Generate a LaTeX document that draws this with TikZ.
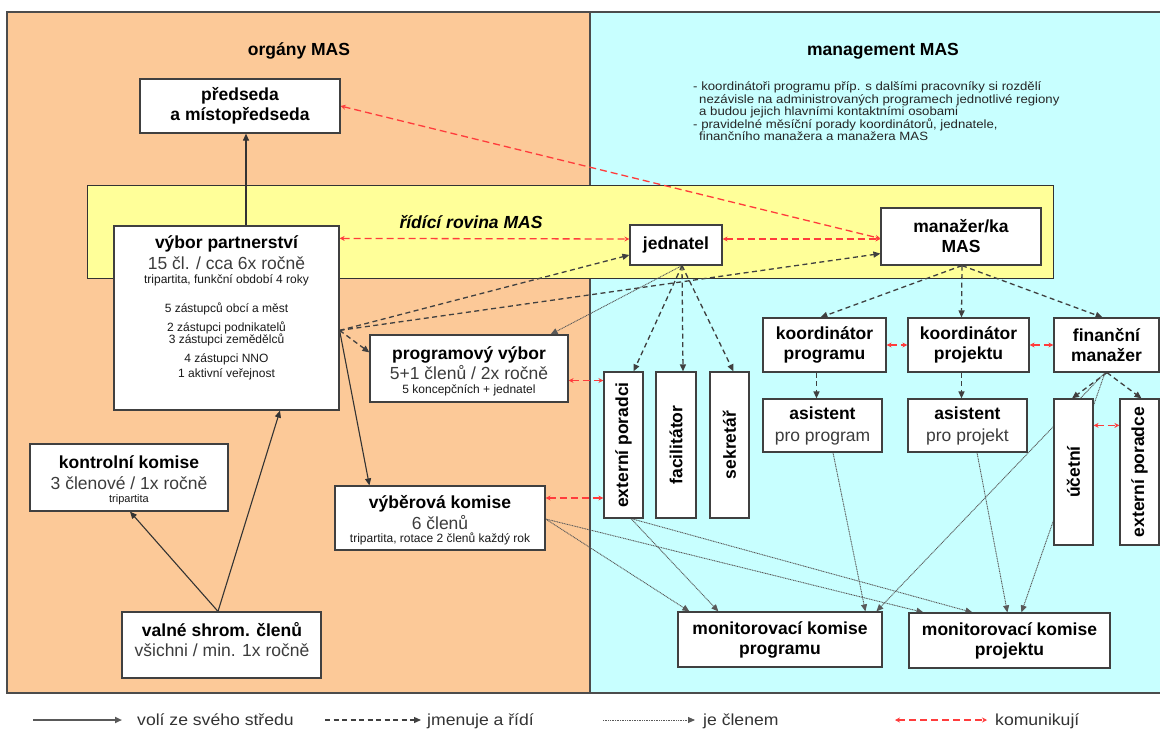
\documentclass[tikz,border=0pt]{standalone}
\usepackage{fontspec}
\setmainfont{Liberation Sans}
\newfontfamily\widefont[FakeStretch=1.1]{Liberation Sans}
\usetikzlibrary{arrows.meta,calc}
\pgfdeclarelayer{bg}
\pgfdeclarelayer{lines}
\pgfsetlayers{bg,lines,main}
\definecolor{orangebg}{RGB}{252,201,152}
\definecolor{cyanbg}{RGB}{200,255,255}
\definecolor{yellowbg}{RGB}{255,255,153}
\definecolor{redline}{RGB}{255,60,60}
\definecolor{lineg}{RGB}{64,64,64}
\definecolor{txtg}{RGB}{60,60,60}
\begin{document}
\begin{tikzpicture}[x=1pt,y=-1pt,
  box/.style={draw=black!75, line width=1.2pt, fill=white, inner sep=0pt, align=center, font=\bfseries\fontsize{17.5}{20}\selectfont, text=black},
  ttl/.style={anchor=base, inner sep=0pt, font=\bfseries\fontsize{17.5}{20}\selectfont},
  sub/.style={anchor=base, inner sep=0pt, font=\fontsize{17.5}{20}\selectfont, text=txtg},
  small/.style={anchor=base, inner sep=0pt, font=\fontsize{12}{14}\selectfont, text=black!90},
  legtxt/.style={anchor=base west, inner sep=0pt, font=\widefont\fontsize{16}{18}\selectfont, text=black!80},
  solidarr/.style={draw=black!80, line width=1.1pt, -{Triangle[length=7pt,width=6pt]}},
  dasharr/.style={draw=lineg, line width=1.3pt, dash pattern=on 5pt off 3.5pt, -{Triangle[length=7pt,width=6pt]}},
  dotarr/.style={draw=black!65, line width=0.9pt, dash pattern=on 1pt off 0.7pt, -{Triangle[length=7pt,width=6pt]}},
  comm/.style={draw=redline, line width=1.3pt, dash pattern=on 7pt off 4pt, {Stealth[length=5pt,width=5pt]}-{Stealth[length=5pt,width=5pt]}}
]
\useasboundingbox (0,0) rectangle (1160,731);

\begin{pgfonlayer}{bg}
  \fill[white] (0,0) rectangle (1160,731);
  \fill[orangebg] (7,12) rectangle (590,693);
  \fill[cyanbg] (590,12) rectangle (1163,693);
  \draw[black!70, line width=1.5pt] (1163,12) -- (7,12) -- (7,693) -- (1163,693);
  \draw[black!70, line width=1.5pt] (590,12) -- (590,693);
  \filldraw[fill=yellowbg, draw=black!80, line width=1pt] (87,185) rectangle (1053,278);
\end{pgfonlayer}

% titles
\node[ttl] (t-org) at (299,55.3) {orgány MAS};
\node[ttl] (t-mgmt) at (883,55.3) {management MAS};
\node[ttl, font=\bfseries\itshape\fontsize{17.5}{20}\selectfont] (t-rid) at (471,228.3) {řídící rovina MAS};
\node[anchor=north west, align=left, inner sep=0pt, font=\widefont\fontsize{12}{12.6}\selectfont, text=black!85] (t-note) at (693,81.5) {%
- koordinátoři programu příp. s dalšími pracovníky si rozdělí\\
\hspace*{6pt}nezávisle na administrovaných programech jednotlivé regiony\\
\hspace*{6pt}a budou jejich hlavními kontaktními osobami\\
- pravidelné měsíční porady koordinátorů, jednatele,\\
\hspace*{6pt}finančního manažera a manažera MAS};

% boxes
\node[box, minimum width=200pt, minimum height=54pt] (pr) at (240,106) {předseda\\a místopředseda};
\node[box, minimum width=225pt, minimum height=184pt] (vp) at (226.5,318) {};
\node[box, minimum width=198pt, minimum height=67pt] (kk) at (129,477.5) {};
\node[box, minimum width=199pt, minimum height=66pt] (vs) at (221.5,645) {};
\node[box, minimum width=198pt, minimum height=67pt] (pv) at (469,368.5) {};
\node[box, minimum width=210pt, minimum height=64pt] (vk) at (440,518) {};
\node[box, minimum width=92pt, minimum height=40pt] (jd) at (676,245) {jednatel};
\node[box, minimum width=160pt, minimum height=57pt] (mg) at (961,236.5) {manažer/ka\\MAS};
\node[box, minimum width=123pt, minimum height=54pt] (kp) at (824.5,345) {koordinátor\\programu};
\node[box, minimum width=121pt, minimum height=54pt] (kj) at (968.5,345) {koordinátor\\projektu};
\node[box, minimum width=105pt, minimum height=54pt] (fm) at (1106.5,345) {finanční\\manažer};
\node[box, minimum width=119pt, minimum height=53pt, font=\bfseries\fontsize{17.5}{22}\selectfont] (ap) at (822.5,425.5) {asistent\\{\mdseries\color{txtg}pro program}};
\node[box, minimum width=119pt, minimum height=53pt, font=\bfseries\fontsize{17.5}{22}\selectfont] (aj) at (967.5,425.5) {asistent\\{\mdseries\color{txtg}pro projekt}};
\node[box, minimum width=39pt, minimum height=146pt] (ep) at (623.5,445) {\rotatebox{90}{externí poradci}};
\node[box, minimum width=40pt, minimum height=146pt] (fa) at (676,445) {\rotatebox{90}{facilitátor}};
\node[box, minimum width=39pt, minimum height=146pt] (se) at (729.5,445) {\rotatebox{90}{sekretář}};
\node[box, minimum width=39pt, minimum height=146pt] (uc) at (1073.5,472) {\rotatebox{90}{účetní}};
\node[box, minimum width=39pt, minimum height=146pt] (eo) at (1139.5,472) {\rotatebox{90}{externí poradce}};
\node[box, minimum width=204pt, minimum height=55pt] (mp) at (780,639.5) {monitorovací komise\\programu};
\node[box, minimum width=201pt, minimum height=55pt] (mj) at (1009.5,640.5) {monitorovací komise\\projektu};

% texts in boxes
\node[ttl] (vp-1) at (226.5,248.3) {výbor partnerství};
\node[sub] (vp-2) at (226.5,269.3) {15 čl. / cca 6x ročně};
\node[small] (vp-3) at (226.5,283.3) {tripartita, funkční období 4 roky};
\node[small] (vp-4) at (226.5,312.3) {5 zástupců obcí a měst};
\node[small] (vp-5) at (226.5,331.3) {2 zástupci podnikatelů};
\node[small] (vp-6) at (226.5,343.3) {3 zástupci zemědělců};
\node[small] (vp-7) at (226.5,362.3) {4 zástupci NNO};
\node[small] (vp-8) at (226.5,377.3) {1 aktivní veřejnost};

\node[ttl] (pv-1) at (469,359.3) {programový výbor};
\node[sub] (pv-2) at (469,379.3) {5+1 členů / 2x ročně};
\node[small] (pv-3) at (469,393.3) {5 koncepčních + jednatel};

\node[ttl] (vk-1) at (440,508.3) {výběrová komise};
\node[sub] (vk-2) at (440,529.3) {6 členů};
\node[small] (vk-3) at (440,542.3) {tripartita, rotace 2 členů každý rok};

\node[ttl] (kk-1) at (129,468.3) {kontrolní komise};
\node[sub] (kk-2) at (129,489.3) {3 členové / 1x ročně};
\node[small, font=\fontsize{11}{13}\selectfont] (kk-3) at (129,502) {tripartita};

\node[ttl] (vs-1) at (222,636.3) {valné shrom. členů};
\node[sub] (vs-2) at (222,656.3) {všichni / min. 1x ročně};

% legend
\coordinate (l1a) at (33,720); \coordinate (l1b) at (122,720);
\coordinate (l2a) at (325,720); \coordinate (l2b) at (421,720);
\coordinate (l3a) at (603,720); \coordinate (l3b) at (695,720);
\coordinate (l4a) at (895,720); \coordinate (l4b) at (987,720);
\node[legtxt] (lg1) at (137,725.5) {volí ze svého středu};
\node[legtxt] (lg2) at (427,725.5) {jmenuje a řídí};
\node[legtxt] (lg3) at (703,725.5) {je členem};
\node[legtxt] (lg4) at (995,725.5) {komunikují};

\begin{pgfonlayer}{lines}
  % solid
  \draw[solidarr] ($(vp.north)+(19.5,0)$) -- ($(pr.south)+(6,0)$);
  \draw[solidarr] ($(vs.north)+(-3.5,0)$) -- ($(vp.south)+(53.5,0)$);
  \draw[solidarr] ($(vs.north)+(-3.5,0)$) -- ($(kk.south)+(1,0)$);
  \draw[solidarr] ($(vp.north east)+(0,105)$) -- ($(vk.north west)+(35,0)$);
  % dashed
  \draw[dasharr] ($(vp.north east)+(0,105)$) -- ($(pv.north west)+(0,18)$);
  \draw[dasharr] ($(vp.north east)+(0,105)$) -- ($(jd.west)+(0,10)$);
  \draw[dasharr] ($(vp.north east)+(0,105)$) -- ($(mg.south west)+(0,-12)$);
  \draw[dasharr] ($(jd.south)+(6,0)$) -- ($(ep.north)+(10,0)$);
  \draw[dasharr] ($(jd.south)+(6,0)$) -- ($(fa.north)+(7,0)$);
  \draw[dasharr] ($(jd.south)+(6,0)$) -- ($(se.north)+(4,0)$);
  \draw[dasharr] ($(mg.south)+(1,0)$) -- ($(kp.north)+(-4,0)$);
  \draw[dasharr] ($(mg.south)+(1,0)$) -- ($(kj.north)+(-7,0)$);
  \draw[dasharr] ($(mg.south)+(1,0)$) -- ($(fm.north)+(-4,0)$);
  \draw[dasharr] ($(kp.south)+(-8,0)$) -- ($(ap.north)+(-6,0)$);
  \draw[dasharr] ($(kj.south)+(-7,0)$) -- ($(aj.north)+(-6,0)$);
  \draw[dasharr] ($(fm.south)+(0.5,0)$) -- ($(uc.north)+(-1.5,0)$);
  \draw[dasharr] ($(fm.south)+(0.5,0)$) -- ($(eo.north)+(2,0)$);
  % communicate
  \draw[comm] (pr.east) -- ($(mg.west)+(0,2)$);
  \draw[comm] ($(vp.north east)+(0,13)$) -- ($(jd.west)+(0,-6)$);
  \draw[comm] ($(jd.east)+(0,-6)$) -- ($(mg.west)+(0,2.5)$);
  \draw[comm] ($(pv.east)+(0,12)$) -- ($(ep.west |- pv.east)+(0,12)$);
  \draw[comm] ($(vk.east)+(0,-20)$) -- ($(ep.west |- vk.east)+(0,-20)$);
  \draw[comm] (kp.east) -- (kj.west);
  \draw[comm] (kj.east) -- (fm.west);
  \draw[comm] ($(uc.north east)+(0,27)$) -- ($(eo.north west)+(0,27)$);
  % membership
  \draw[dotarr] ($(jd.south)+(6,0)$) -- ($(pv.north east)+(-18,0)$);
  \draw[dotarr] ($(vk.east)+(0,1)$) -- ($(mp.north west)+(12,0)$);
  \draw[dotarr] ($(vk.east)+(0,1)$) -- ($(mj.north west)+(15,0)$);
  \draw[dotarr] ($(ep.south)+(7.5,0)$) -- ($(mp.north west)+(41,0)$);
  \draw[dotarr] ($(ep.south)+(7.5,0)$) -- ($(mj.north west)+(64,0)$);
  \draw[dotarr] ($(ap.south)+(10.5,0)$) -- ($(mp.north west)+(188,0)$);
  \draw[dotarr] ($(aj.south)+(9.5,0)$) -- ($(mj.north west)+(99,0)$);
  \draw[dotarr] ($(fm.south)+(-1.5,0)$) -- ($(mp.north west)+(199,0)$);
  \draw[dotarr] ($(fm.south)+(-1.5,0)$) -- ($(mj.north west)+(113,0)$);
  % legend lines
  \draw[solidarr, line width=1.8pt, draw=black!65] (l1a) -- (l1b);
  \draw[dasharr] (l2a) -- (l2b);
  \draw[dotarr] (l3a) -- (l3b);
  \draw[comm] (l4a) -- (l4b);
\end{pgfonlayer}
\end{tikzpicture}
\end{document}
